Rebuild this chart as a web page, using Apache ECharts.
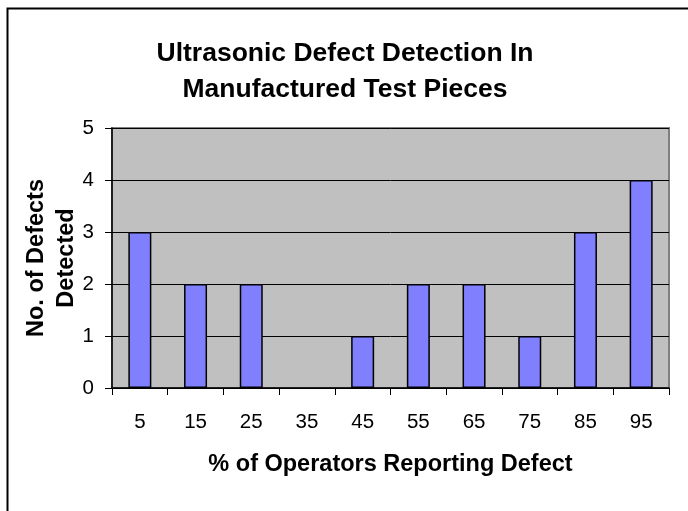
<!DOCTYPE html>
<html>
<head>
<meta charset="utf-8">
<script src="https://cdn.jsdelivr.net/npm/echarts@6/dist/echarts.min.js"></script>
<style>
html,body{margin:0;padding:0;background:#fff;}
#chart{width:688px;height:511px;}
</style>
</head>
<body>
<div id="chart"></div>
<script>
var categories = ['5','15','25','35','45','55','65','75','85','95'];
var defects = [3,2,2,0,1,2,2,1,3,4];
var yTicks = [0,1,2,3,4,5];
var titleText = 'Ultrasonic Defect Detection In\nManufactured Test Pieces';
var xTitle = '% of Operators Reporting Defect';
var yTitle = 'No. of Defects\nDetected';

var chart = echarts.init(document.getElementById('chart'), null, {renderer:'canvas'});
var F = 'Liberation Sans, Arial, sans-serif';
var barData = defects.map(function(v){
  return v === 0 ? {value:v, itemStyle:{borderWidth:0}} : v;
});
chart.setOption({
  backgroundColor:'#ffffff',
  animation:false,
  title:{
    text:titleText, left:340, top:31, textAlign:'center',
    textStyle:{fontFamily:F, fontSize:26.5, fontWeight:'bold', color:'#000', lineHeight:36}
  },
  graphic:[{
    type:'rect', left:5, top:6, silent:true,
    shape:{width:720, height:560},
    style:{fill:'none', stroke:'#000', lineWidth:2}
  }],
  grid:{
    left:112, right:19, top:128, bottom:123, show:true,
    backgroundColor:'#c0c0c0', borderColor:'#808080', borderWidth:2
  },
  xAxis:{
    type:'category', data:categories, boundaryGap:true,
    name:xTitle, nameLocation:'middle', nameGap:65, nameMoveOverlap:false,
    nameTextStyle:{fontFamily:F, fontSize:23.5, fontWeight:'bold', color:'#000'},
    axisLine:{show:true, lineStyle:{color:'#000', width:1.5}},
    axisTick:{show:true, alignWithLabel:false, length:7, lineStyle:{color:'#000'}},
    axisLabel:{fontFamily:F, fontSize:20.5, color:'#000', margin:24},
    splitLine:{show:false}
  },
  yAxis:{
    type:'value', min:0, max:5, interval:1,
    name:yTitle, nameLocation:'middle', nameGap:30, nameRotate:90, nameMoveOverlap:false,
    nameTextStyle:{fontFamily:F, fontSize:23.5, fontWeight:'bold', color:'#000', lineHeight:30},
    axisLine:{show:true, lineStyle:{color:'#000', width:1.5}},
    axisTick:{show:true, length:7, lineStyle:{color:'#000'}},
    axisLabel:{fontFamily:F, fontSize:20.5, color:'#000', margin:18,
      formatter:function(v){return yTicks.indexOf(v)>=0 ? String(v) : '';}},
    splitLine:{show:true, lineStyle:{color:'#000', width:1}}
  },
  series:[{
    type:'bar', data:barData, barWidth:23,
    itemStyle:{color:'#8080ff', borderColor:'#000', borderWidth:1.5}
  }]
});
</script>
</body>
</html>
